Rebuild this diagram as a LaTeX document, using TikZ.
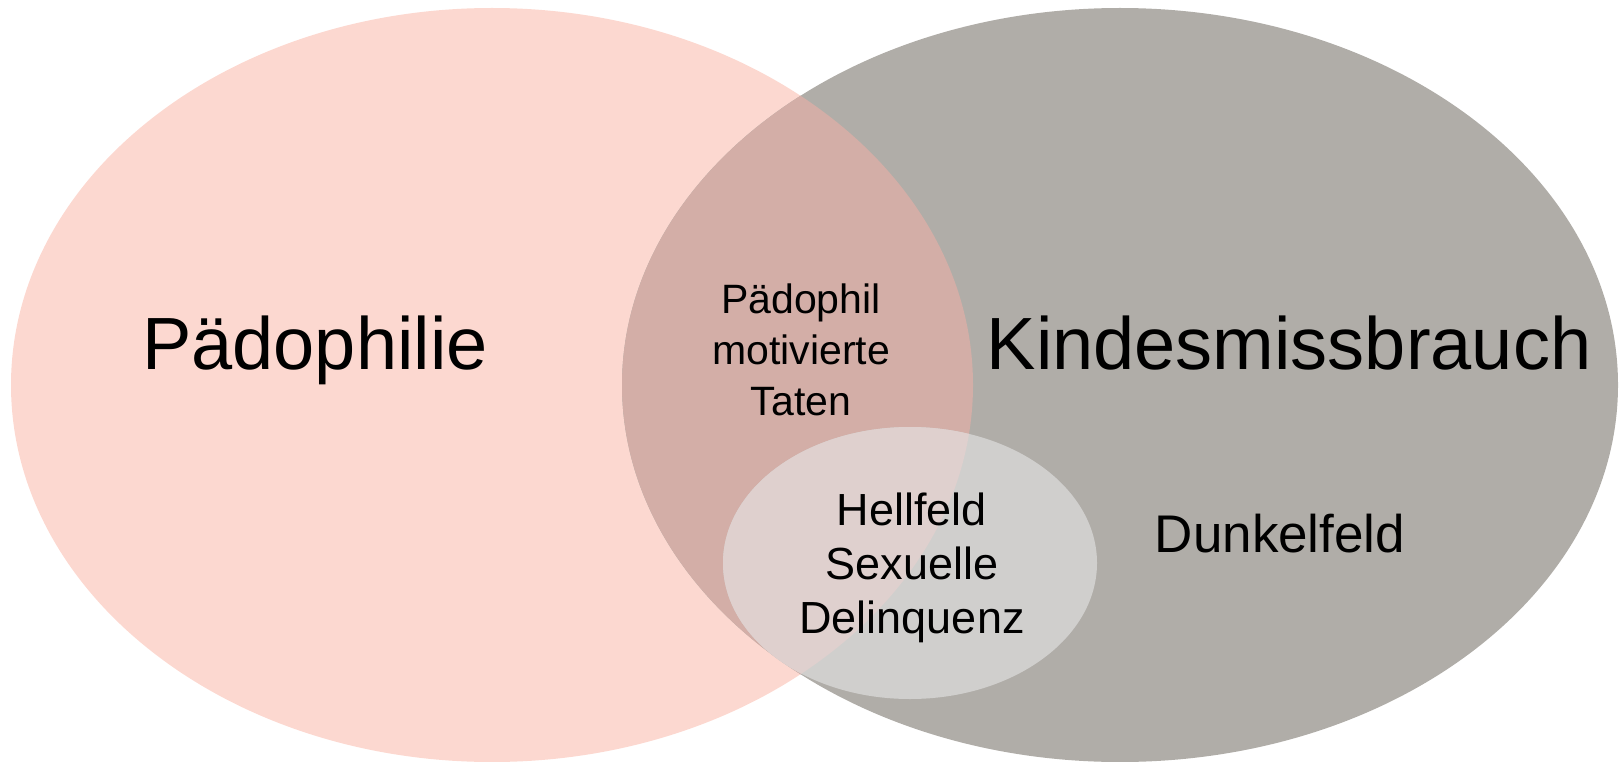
\documentclass[tikz,border=0pt]{standalone}
\usepackage{fontspec}
\setmainfont{Liberation Sans}
\definecolor{pinkc}{HTML}{FCD8D0}
\definecolor{grayc}{HTML}{B0ADA8}
\definecolor{overc}{HTML}{D3AEA7}
\definecolor{smallover}{HTML}{DFD0CE}
\definecolor{smallgray}{HTML}{D0CFCD}
\tikzset{
  lbl/.style={inner sep=0pt, text=black, align=center},
}
\begin{document}
\begin{tikzpicture}[x=1pt,y=-1pt]
\useasboundingbox (0,0) rectangle (1624,762);
% ellipses
\fill[pinkc] (492,385) ellipse [x radius=481pt, y radius=377pt];
\fill[grayc] (1120,385) ellipse [x radius=498pt, y radius=377pt];
\begin{scope}
  \clip (492,385) ellipse [x radius=481pt, y radius=377pt];
  \fill[overc] (1120,385) ellipse [x radius=498pt, y radius=377pt];
\end{scope}
\fill[smallgray] (910,563) ellipse [x radius=187pt, y radius=136pt];
\begin{scope}
  \clip (492,385) ellipse [x radius=481pt, y radius=377pt];
  \fill[smallover] (910,563) ellipse [x radius=187pt, y radius=136pt];
\end{scope}
% labels
\node[lbl, anchor=base, font=\fontsize{74}{80}\selectfont] (paed) at (315,369) {Pädophilie};
\node[lbl, anchor=base, font=\fontsize{74}{80}\selectfont] (kind) at (1289,369) {Kindesmissbrauch};
\node[lbl, font=\fontsize{41}{51}\selectfont] (taten) at (801,350) {Pädophil\\motivierte\\Taten};
\node[lbl, font=\fontsize{45}{54}\selectfont] (hell) at (912,568) {Hellfeld\\Sexuelle\\Delinquenz};
\node[lbl, anchor=base, font=\fontsize{53}{60}\selectfont] (dunkel) at (1280,552) {Dunkelfeld};
\end{tikzpicture}
\end{document}
